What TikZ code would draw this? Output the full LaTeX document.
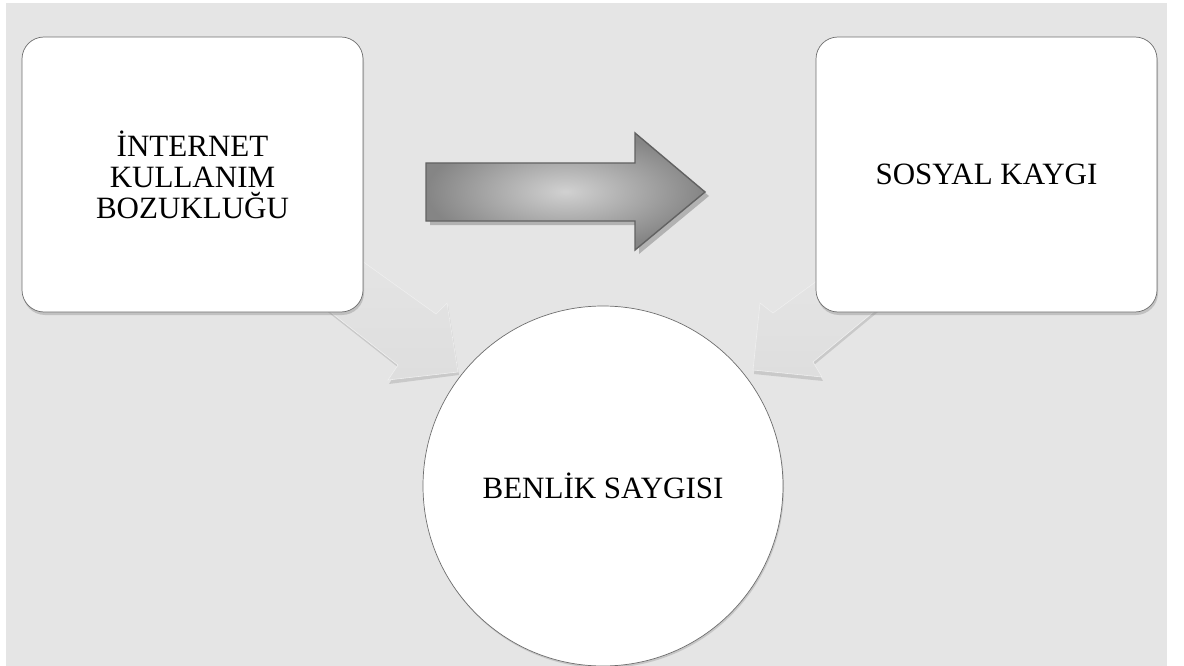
\documentclass[tikz,border=0pt]{standalone}
\usepackage{fontspec}
\setmainfont{Liberation Serif}
\usetikzlibrary{shadows}
\definecolor{bggray}{HTML}{E5E5E5}
\definecolor{edgegray}{HTML}{6E6E6E}
\definecolor{arrowedge}{HTML}{626262}
\tikzset{
	blockbox/.style={draw=edgegray, line width=0.7pt, fill=white, rounded corners=22pt, align=center,
		font=\fontsize{31}{31}\selectfont, minimum width=341pt, minimum height=275pt,
		drop shadow={shadow xshift=1pt, shadow yshift=-3pt, opacity=0.35}},
	roundbox/.style={circle, draw=edgegray, line width=0.7pt, fill=white, minimum size=360pt,
		font=\fontsize{31}{31}\selectfont,
		drop shadow={shadow xshift=1pt, shadow yshift=-2pt, opacity=0.3}},
	faintarrow/.style={top color=bggray, bottom color=black!13, draw=white!40!bggray, line width=0.6pt}
}

\begin{document}
\begin{tikzpicture}[x=1pt, y=-1pt]
		%%%%% START %%%%%
		\useasboundingbox (0, 0) rectangle (1184, 666);
		\fill[bggray] (6, 3) rectangle (1167, 666);
		
		% faint arrows towards the circle
		\fill[black, opacity=0.12] (331, 241) -- (437, 317) -- (448, 306) -- (459, 375) -- (389, 384) -- (399, 368) -- (301, 291) -- cycle;
		\shade[faintarrow] (330, 238) -- (436, 314) -- (447, 303) -- (458, 372) -- (388, 380) -- (398, 365) -- (300, 288) -- cycle;
		\fill[black, opacity=0.12] (841, 267) -- (774, 316) -- (761, 306) -- (754, 374) -- (823, 381) -- (814, 365) -- (901, 293) -- cycle;
		\shade[faintarrow] (840, 264) -- (773, 313) -- (760, 303) -- (753, 370) -- (822, 377) -- (813, 362) -- (900, 290) -- cycle;
		
		\node[blockbox] (ikb) at (192.5, 174.5) {İNTERNET\\KULLANIM\\BOZUKLUĞU};
		\node[blockbox] (sk) at (986.5, 174.5) {SOSYAL KAYGI};
		\node[roundbox] (bs) at (603, 486) {BENLİK SAYGISI};
		
		% big arrow
		\fill[black!30] (430, 167) -- (639, 167) -- (639, 137) -- (709, 196) -- (639, 254) -- (639, 225) -- (430, 225) -- cycle;
		\shade[inner color=black!18, outer color=black!48, draw=arrowedge, line width=1.4pt] (426, 163) -- (635, 163) -- (635, 133) -- (705, 192) -- (635, 250) -- (635, 221) -- (426, 221) -- cycle;
		
		%%%%% END %%%%%
\end{tikzpicture}
\end{document}
